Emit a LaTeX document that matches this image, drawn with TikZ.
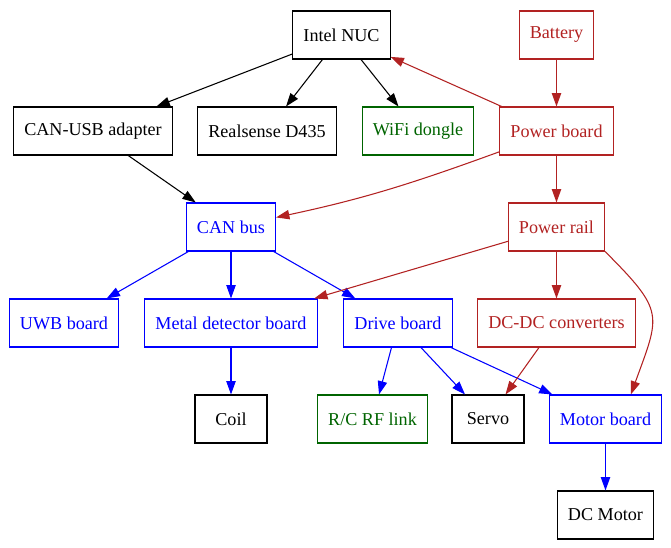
\documentclass[tikz,border=0pt]{standalone}
\usepackage{fontspec}
\setmainfont{Liberation Serif}
\usepackage{tikz}
\usetikzlibrary{arrows.meta,positioning,calc}
\definecolor{fireBrick}{RGB}{178,34,34}
\definecolor{darkGreen}{RGB}{0,100,0}
\tikzstyle{box}     =[draw,rectangle,minimum width=54pt,minimum height=36pt,inner xsep=7.9pt,inner ysep=0pt]
\tikzstyle{blackBox}=[box,draw=black,    text=black]
\tikzstyle{redBox}  =[box,draw=fireBrick,text=fireBrick]
\tikzstyle{blueBox} =[box,draw=blue,     text=blue]
\tikzstyle{greenBox}=[box,draw=darkGreen,text=darkGreen]

\begin{document}
\begin{tikzpicture}[x=0.75pt,y=0.75pt,font=\fontsize{13.6pt}{16pt}\selectfont,line width=0.8pt,>={Triangle[length=10pt,width=7pt]}]
      \useasboundingbox (0,0) rectangle (671,-547);
      % nodes, row by row
      \node [blackBox] (nuc)     at (341.5,-35) {Intel NUC};
      \node [redBox]   (battery) at (556.5,-35) {Battery};
      \node [blackBox] (usb)     at (93,-131)   {CAN-USB adapter};
      \node [blackBox] (camera)  at (267,-131)  {Realsense D435};
      \node [greenBox] (wifi)    at (418,-131)  {WiFi dongle};
      \node [redBox]   (pboard)  at (556.5,-131) {Power board};
      \node [blueBox]  (can)     at (231,-227)  {CAN bus};
      \node [redBox]   (prail)   at (556.5,-227) {Power rail};
      \node [blueBox]  (uwb)     at (64,-323)   {UWB board};
      \node [blueBox]  (metal)   at (231,-323)  {Metal detector board};
      \node [blueBox]  (drive)   at (398,-323)  {Drive board};
      \node [redBox]   (dcdc)    at (556.5,-323) {DC-DC converters};
      \node [blackBox] (coil)    at (231,-419)  {Coil};
      \node [greenBox] (rf)      at (372.5,-419) {R/C RF link};
      \node [blackBox] (servo)   at (488,-419)  {Servo};
      \node [blueBox]  (mboard)  at (605.5,-419) {Motor board};
      \node [blackBox] (motor)   at (605.5,-515) {DC Motor};

      % data
      \draw [->] (nuc) -- (usb);
      \draw [->] (nuc) -- (camera);
      \draw [->] (nuc) -- (wifi);
      \draw [->] (usb) -- (can);
      \draw [->,blue] (can) -- (uwb);
      \draw [->,blue] (can) -- (metal);
      \draw [->,blue] (can) -- (drive);
      \draw [->,blue] (metal) -- (coil);
      \draw [->,blue] (drive) -- (rf);
      \draw [->,blue] (drive) -- (servo);
      \draw [->,blue] (drive) -- (mboard);
      \draw [->,blue] (mboard) -- (motor);

      % power
      \draw [->,fireBrick] (battery) -- (pboard);
      \draw [->,fireBrick] (pboard) -- (nuc);
      \draw [->,fireBrick] (pboard) to[out=200,in=12] (can);
      \draw [->,fireBrick] (pboard) -- (prail);
      \draw [->,fireBrick] (prail) -- (metal);
      \draw [->,fireBrick] (prail) -- (dcdc);
      \draw [->,fireBrick] (prail.south east) to[out=-45,in=70,looseness=1.5] ([xshift=19pt]mboard.north);
      \draw [->,fireBrick] (dcdc) -- (servo);
    \end{tikzpicture}
\end{document}
